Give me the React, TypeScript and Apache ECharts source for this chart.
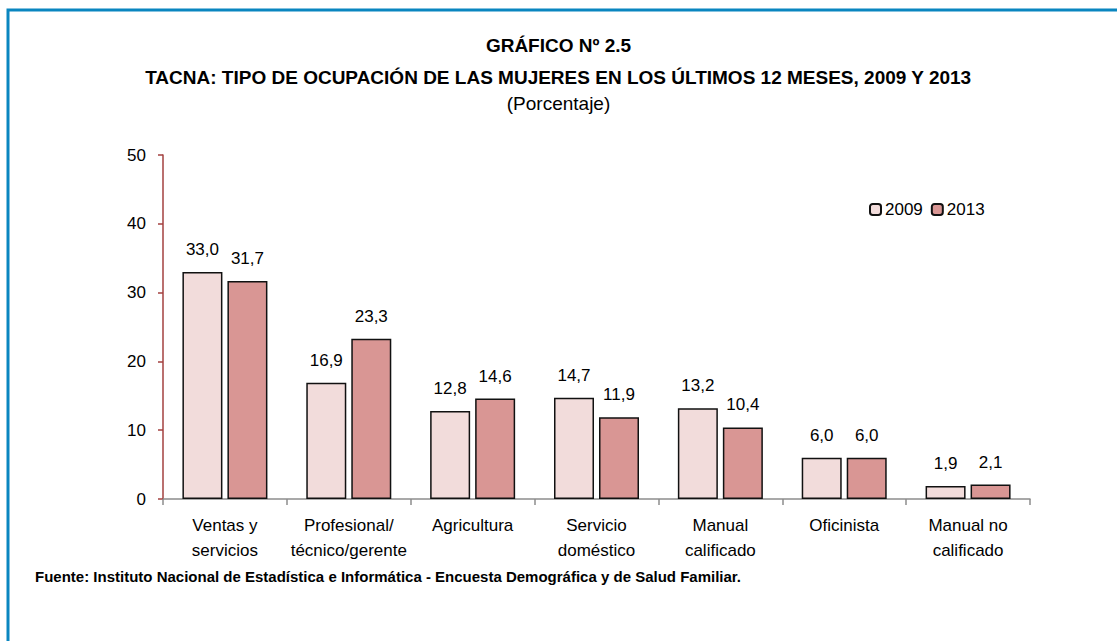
import React, { useEffect, useRef } from "react";
import * as echarts from "echarts";

const categories = [
  "Ventas y\nservicios",
  "Profesional/\ntécnico/gerente",
  "Agricultura",
  "Servicio\ndoméstico",
  "Manual\ncalificado",
  "Oficinista",
  "Manual no\ncalificado",
];
const values2009 = [33.0, 16.9, 12.8, 14.7, 13.2, 6.0, 1.9];
const values2013 = [31.7, 23.3, 14.6, 11.9, 10.4, 6.0, 2.1];
const seriesNames = ["2009", "2013"];

const FONT = "'Liberation Sans Narrow', 'Arial Narrow', 'Liberation Sans', Arial, sans-serif";

export default function App() {
  const ref = useRef<HTMLDivElement>(null);
  useEffect(() => {
    if (!ref.current) return;
    const chart = echarts.init(ref.current, null, { renderer: "svg" });
    const fmt = (p: any) => Number(p.value).toFixed(1).replace(".", ",");
    chart.setOption({
      animation: false,
      backgroundColor: "#ffffff",
      textStyle: { fontFamily: FONT },
      graphic: [
        {
          type: "rect",
          shape: { x: 8, y: 10, width: 1130, height: 660 },
          style: { fill: "none", stroke: "#0a86c0", lineWidth: 3 },
          silent: true,
        },
        {
          type: "text",
          left: "center",
          top: 36,
          style: { text: "GRÁFICO Nº 2.5", font: `bold 19px ${FONT}`, fill: "#000" },
        },
        {
          type: "text",
          left: "center",
          top: 68,
          style: {
            text: "TACNA: TIPO DE OCUPACIÓN DE LAS MUJERES EN LOS ÚLTIMOS 12 MESES, 2009 Y 2013",
            font: `bold 19px ${FONT}`,
            fill: "#000",
          },
        },
        {
          type: "text",
          left: "center",
          top: 94,
          style: { text: "(Porcentaje)", font: `19px ${FONT}`, fill: "#000" },
        },
        {
          type: "text",
          left: 35,
          top: 569,
          style: {
            text: "Fuente: Instituto Nacional de Estadística e Informática - Encuesta Demográfica y de Salud Familiar.",
            font: `bold 15px ${FONT}`,
            fill: "#000",
          },
        },
      ],
      legend: {
        data: seriesNames,
        left: 864,
        top: 196,
        itemWidth: 11,
        itemHeight: 11,
        itemGap: 8,
        textStyle: { fontFamily: FONT, fontSize: 17, color: "#000", padding: [0, 0, 0, -1] },
      },
      grid: { left: 163, right: 87, top: 155, bottom: 142, containLabel: false },
      xAxis: {
        type: "category",
        data: categories,
        axisLine: { lineStyle: { color: "#8c8c8c", width: 1.5 } },
        axisTick: { show: true, length: 6, alignWithLabel: false, lineStyle: { color: "#8c8c8c", width: 1.5 } },
        axisLabel: { fontFamily: FONT, fontSize: 17, color: "#000", margin: 14, lineHeight: 25, interval: 0 },
      },
      yAxis: {
        type: "value",
        min: 0,
        max: 50,
        interval: 10,
        splitLine: { show: false },
        axisLine: { show: true, lineStyle: { color: "#a3413f", width: 1.5 } },
        axisTick: { show: true, length: 5, lineStyle: { color: "#a3413f", width: 1.5 } },
        axisLabel: { fontFamily: FONT, fontSize: 17, color: "#000", margin: 17 },
      },
      series: [
        {
          name: seriesNames[0],
          type: "bar",
          data: values2009,
          barWidth: 40,
          barGap: "12.5%",
          itemStyle: { color: "#f2dcdb", borderColor: "#111", borderWidth: 1.5 },
          label: { show: true, position: "top", distance: 14, formatter: fmt, fontFamily: FONT, fontSize: 17, color: "#000" },
        },
        {
          name: seriesNames[1],
          type: "bar",
          data: values2013,
          barWidth: 40,
          barGap: "12.5%",
          itemStyle: { color: "#d99694", borderColor: "#111", borderWidth: 1.5 },
          label: { show: true, position: "top", distance: 14, formatter: fmt, fontFamily: FONT, fontSize: 17, color: "#000" },
        },
      ],
    });
    return () => chart.dispose();
  }, []);
  return (
    <div
      ref={ref}
      style={{ position: "fixed", left: 0, top: 0, width: 1117, height: 641 }}
    />
  );
}
